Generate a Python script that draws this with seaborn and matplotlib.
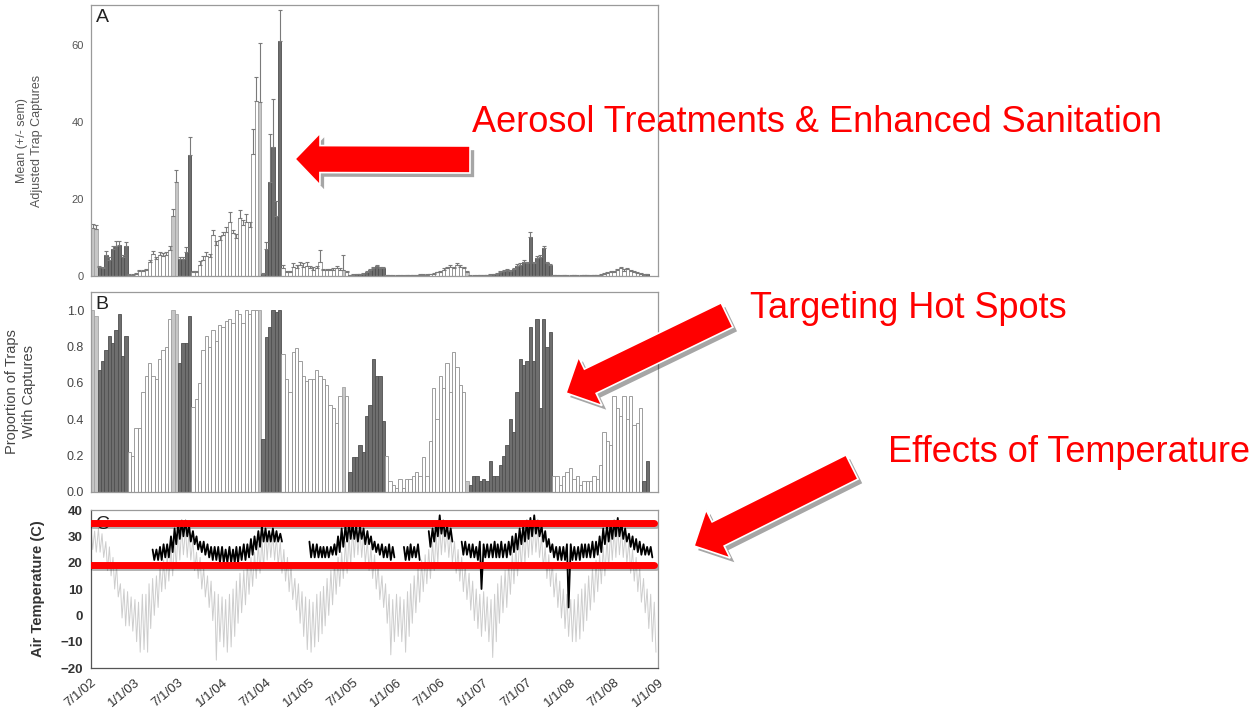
import numpy as np
import pandas as pd
import seaborn as sns
import matplotlib.pyplot as plt
import matplotlib.dates as mdates
import matplotlib.patheffects as pe
from matplotlib.patches import Polygon

sns.set_style("white")
plt.rcParams['font.family'] = ['Liberation Sans', 'DejaVu Sans']

# trap surveys every 14 days starting 7/1/02
survey_start = "2002-07-01"
survey_step_days = 14

# bar shading: L = light grey, W = open, D = dark grey
bar_group = ("LL" + "D" * 9 + "W" * 13 + "LL" + "D" * 4 + "W" * 20 + "L" + "D" * 6
             + "W" * 18 + "LW" + "D" * 11 + "W" * 24 + "L" + "D" * 25 + "W" * 27 + "DD")

# A. mean adjusted trap captures and sem
capture_mean = [
    12.5, 12.2,
    2.2, 2.0, 5.5, 4.2, 6.9, 7.9, 8.0, 4.8, 7.8,
    0.3, 0.3, 0.5, 1.3, 1.3, 1.5, 3.5, 5.7, 4.3, 5.4, 5.2, 5.4, 6.8,
    15.5, 24.5,
    4.4, 4.4, 6.3, 31.3,
    1.1, 1.1, 2.9, 4.2, 5.3, 5.0, 10.6, 8.1, 9.4, 10.6, 11.5, 14.1, 11.1, 9.8, 15.0, 13.2, 14.1, 12.8, 31.6, 45.5, 45.3,
    0.5, 7.0, 24.5, 33.5, 15.5, 61.0,
    2.0, 1.1, 1.1, 2.4, 2.0, 2.9, 2.4, 2.7, 2.0, 1.6, 2.0, 3.7, 1.6, 1.6, 1.6, 1.6, 2.0, 1.6, 1.6, 1.1,
    0.2, 0.3, 0.5, 0.4, 0.6, 1.0, 1.5, 2.0, 2.6, 2.0, 2.0,
    0.2, 0.1, 0.1, 0.1, 0.1, 0.1, 0.2, 0.1, 0.2, 0.2, 0.3, 0.3, 0.3, 0.4, 0.5, 0.9, 1.1, 1.6, 2.0, 2.4, 2.0, 2.9, 2.4, 2.0, 1.1,
    0.1, 0.1, 0.1, 0.2, 0.2, 0.2, 0.3, 0.5, 0.6, 1.0, 1.3, 1.5, 1.3, 1.7, 2.6, 2.9, 3.7, 3.3, 10.2, 3.3, 4.6, 5.0, 7.2, 3.3, 2.9,
    0.2, 0.1, 0.1, 0.2, 0.1, 0.1, 0.2, 0.1, 0.1, 0.2, 0.2, 0.1, 0.2, 0.2, 0.3, 0.5, 0.7, 1.1, 1.0, 1.5, 2.0, 1.4, 1.7, 1.3, 1.0, 0.8, 0.5,
    0.3, 0.4,
]
capture_sem = [
    1.0, 1.1,
    0.3, 0.3, 0.9, 0.6, 0.9, 1.1, 1.1, 0.6, 1.0,
    0.1, 0.1, 0.2, 0.3, 0.3, 0.4, 0.7, 0.9, 0.6, 0.7, 0.7, 0.7, 0.9,
    1.8, 2.9,
    0.4, 0.4, 1.3, 4.8,
    0.2, 0.2, 1.0, 1.1, 1.0, 0.8, 1.3, 1.0, 1.0, 0.9, 1.3, 2.6, 0.9, 1.0, 2.1, 1.3, 1.9, 1.3, 6.6, 6.3, 15.1,
    0.3, 1.7, 12.5, 12.6, 4.0, 8.0,
    0.9, 0.2, 0.3, 1.0, 0.9, 0.8, 1.0, 0.9, 0.5, 0.8, 0.5, 3.0, 0.3, 0.3, 0.3, 0.4, 0.5, 0.4, 3.9, 0.2,
    0.1, 0.1, 0.1, 0.1, 0.2, 0.3, 0.3, 0.4, 0.3, 0.3, 0.3,
    0.1, 0.05, 0.05, 0.05, 0.05, 0.05, 0.1, 0.05, 0.1, 0.1, 0.1, 0.1, 0.1, 0.1, 0.2, 0.2, 0.3, 0.4, 0.4, 0.4, 0.4, 0.4, 0.4, 0.4, 0.2,
    0.05, 0.05, 0.05, 0.1, 0.1, 0.1, 0.1, 0.1, 0.2, 0.2, 0.3, 0.3, 0.3, 0.3, 0.4, 0.4, 0.5, 0.4, 1.3, 0.4, 0.5, 0.5, 0.5, 0.4, 0.3,
    0.1, 0.05, 0.05, 0.1, 0.05, 0.05, 0.1, 0.05, 0.05, 0.1, 0.1, 0.05, 0.1, 0.1, 0.1, 0.2, 0.2, 0.3, 0.3, 0.4, 0.4, 0.3, 0.4, 0.3, 0.3, 0.2, 0.2,
    0.1, 0.1,
]

# B. proportion of traps with captures
trap_prop = [
    1.0, 0.97,
    0.67, 0.72, 0.78, 0.86, 0.82, 0.89, 0.98, 0.75, 0.86,
    0.22, 0.20, 0.35, 0.35, 0.55, 0.64, 0.71, 0.64, 0.62, 0.73, 0.78, 0.80, 0.95,
    1.0, 0.98,
    0.71, 0.82, 0.82, 0.97,
    0.47, 0.51, 0.60, 0.78, 0.86, 0.80, 0.89, 0.83, 0.92, 0.91, 0.94, 0.95, 0.93, 1.0, 0.98, 0.93, 1.0, 0.98, 1.0, 1.0, 1.0,
    0.29, 0.85, 0.91, 1.0, 0.99, 1.0,
    0.76, 0.62, 0.55, 0.77, 0.79, 0.72, 0.64, 0.61, 0.62, 0.62, 0.67, 0.64, 0.62, 0.59, 0.48, 0.46, 0.38, 0.53, 0.58, 0.53,
    0.11, 0.19, 0.19, 0.26, 0.22, 0.42, 0.48, 0.73, 0.64, 0.64, 0.39,
    0.20, 0.06, 0.04, 0.02, 0.07, 0.02, 0.07, 0.07, 0.09, 0.11, 0.09, 0.19, 0.09, 0.28, 0.57, 0.40, 0.64, 0.57, 0.71, 0.55, 0.77, 0.69, 0.59, 0.55, 0.06,
    0.04, 0.09, 0.09, 0.06, 0.07, 0.06, 0.17, 0.09, 0.09, 0.15, 0.20, 0.26, 0.40, 0.33, 0.55, 0.73, 0.70, 0.72, 0.91, 0.72, 0.95, 0.46, 0.95, 0.80, 0.88,
    0.09, 0.09, 0.04, 0.09, 0.11, 0.13, 0.07, 0.09, 0.04, 0.06, 0.06, 0.06, 0.09, 0.07, 0.15, 0.33, 0.28, 0.26, 0.53, 0.46, 0.42, 0.53, 0.40, 0.53, 0.37, 0.38, 0.46,
    0.06, 0.17,
]

# C. air temperature, half-month readings (1st and 16th), Jul 2002 - Dec 2008
outdoor_hi = [
    33, 32, 33, 31, 28, 26, 22, 19, 12, 10, 9, 7,
    6, 5, 8, 8, 12, 14, 15, 19, 21, 23, 26, 29, 33, 34, 33, 32, 29, 24, 22, 18, 15, 13, 9, 8,
    7, 6, 8, 10, 13, 16, 17, 20, 22, 24, 27, 29, 32, 32, 31, 30, 28, 25, 22, 19, 14, 12, 9, 7,
    6, 5, 8, 9, 11, 14, 17, 20, 22, 24, 28, 31, 33, 34, 33, 31, 28, 26, 23, 19, 15, 12, 8, 6,
    8, 7, 6, 9, 12, 15, 18, 21, 23, 25, 28, 31, 34, 34, 33, 31, 28, 25, 22, 19, 16, 13, 10, 8,
    9, 7, 6, 8, 12, 15, 17, 20, 24, 26, 29, 31, 33, 34, 35, 33, 30, 26, 23, 20, 16, 13, 10, 8,
    6, 6, 8, 10, 12, 15, 18, 21, 23, 26, 29, 32, 33, 34, 33, 31, 28, 25, 22, 18, 14, 10, 8, 5,
]
outdoor_lo = [
    25, 24, 24, 22, 17, 15, 10, 7, -1, -4, -4, -6,
    -10, -14, -13, -14, -5, 0, 3, 9, 10, 13, 15, 18, 21, 23, 22, 21, 17, 14, 10, 7, 3, -2, -17, -10,
    -12, -14, -12, -8, -3, 1, 4, 8, 11, 14, 16, 18, 21, 22, 21, 19, 16, 13, 9, 6, 2, -3, -8, -13,
    -14, -12, -10, -7, -4, 0, 4, 8, 11, 14, 16, 19, 22, 23, 22, 20, 17, 14, 10, 6, 3, -3, -15, -10,
    -8, -10, -14, -8, -3, 1, 5, 9, 12, 14, 17, 20, 23, 24, 22, 20, 16, 13, 9, 6, 2, -2, -5, -8,
    -6, -10, -16, -10, -3, 1, 3, 8, 12, 15, 18, 20, 22, 23, 24, 22, 18, 14, 11, 7, 3, -1, -5, -8,
    -10, -10, -9, -6, -2, 2, 5, 9, 12, 15, 18, 21, 22, 23, 22, 20, 16, 13, 9, 5, 1, -5, -10, -14,
]
N = None
indoor_hi = [
    N, N, N, N, N, N, N, N, N, N, N, N,
    N, N, N, N, N, 25, 25, 26, 27, 27, 30, 33, 35, 36, 36, 34, 32, 30, 28, 28, 27, 26, 26, 26,
    26, 25, 26, 25, 26, 26, 27, 27, 29, 30, 32, 34, 33, 32, 33, 32, 31, N, N, N, N, N, N, N,
    28, 27, 27, 26, 26, 26, 26, 27, 30, 33, 34, 35, 35, 34, 34, 33, 32, 30, 28, 27, 27, 26, 27, 26,
    N, N, 26, 26, 27, 26, 27, N, N, 32, 33, 35, 38, 36, 34, 33, N, N, 28, 28, 27, 27, 26, 28,
    27, 27, 27, 28, 27, 28, 27, 28, 30, 31, 33, 34, 36, 37, 38, 36, 34, 32, 29, 27, 26, 26, 26, 27,
    27, 26, 26, 27, 27, 27, 28, 28, 30, 33, 34, 35, 36, 37, 35, 33, 31, 30, 29, 28, 27, 26, 26, N,
]
indoor_lo = [
    N, N, N, N, N, N, N, N, N, N, N, N,
    N, N, N, N, N, 21, 21, 21, 22, 22, 24, 27, 29, 30, 30, 28, 27, 25, 24, 23, 22, 21, 21, 20,
    20, 20, 20, 20, 20, 21, 21, 22, 23, 25, 26, 28, 28, 28, 28, 28, 28, N, N, N, N, N, N, N,
    22, 22, 22, 22, 22, 22, 23, 23, 24, 26, 28, 29, 29, 28, 29, 27, 27, 25, 24, 23, 22, 22, 21, 22,
    N, N, 21, 21, 22, 22, 21, N, N, 26, 28, 30, 31, 30, 29, 28, N, N, 23, 23, 22, 22, 21, 10,
    22, 22, 22, 22, 22, 22, 22, 23, 24, 25, 27, 28, 29, 30, 31, 30, 28, 26, 24, 22, 21, 21, 21, 3,
    21, 21, 21, 22, 22, 22, 22, 23, 24, 27, 28, 29, 30, 30, 29, 28, 26, 25, 24, 23, 23, 23, 22, N,
]
band_temps = [35, 19]

n = len(trap_prop)
assert len(capture_mean) == n == len(capture_sem) == len(bar_group)
assert len(outdoor_hi) == len(outdoor_lo) == len(indoor_hi) == len(indoor_lo)

x0 = mdates.date2num(pd.Timestamp(survey_start))
bar_x = x0 + survey_step_days * (np.arange(n) + 0.5)

months = pd.date_range("2002-07-01", "2008-12-01", freq="MS")
slot_dates = []
for m in months:
    slot_dates += [m, m + pd.Timedelta(days=15)]


def zigzag(hi, lo):
    rows, seg = [], 0
    for d, h, l in zip(slot_dates, hi, lo):
        if h is None:
            seg += 1
            continue
        rows.append((mdates.date2num(d), h, seg))
        rows.append((mdates.date2num(d + pd.Timedelta(days=7)), l, seg))
    return pd.DataFrame(rows, columns=["date", "temp", "seg"])


outdoor = zigzag(outdoor_hi, outdoor_lo)
indoor = zigzag(indoor_hi, indoor_lo)

fig = plt.figure(figsize=(12.54, 7.13), dpi=100)
axA = fig.add_axes([0.0726, 0.613, 0.4522, 0.380])
axB = fig.add_axes([0.0726, 0.310, 0.4522, 0.2805], sharex=axA)
axC = fig.add_axes([0.0726, 0.0631, 0.4522, 0.2216], sharex=axA)

face = {"L": "#c6c6c6", "W": "white", "D": "#6e6e6e"}
edge = {"L": "#a3a3a3", "W": "#8e8e8e", "D": "#505050"}
fc = [face[g] for g in bar_group]
ec = [edge[g] for g in bar_group]

axA.bar(bar_x, capture_mean, width=survey_step_days, color=fc, edgecolor=ec, linewidth=0.6)
axA.errorbar(bar_x, capture_mean, yerr=[np.zeros(n), capture_sem], fmt='none',
             ecolor='#7a7a7a', elinewidth=0.8, capsize=1.5, capthick=0.8)
axB.bar(bar_x, trap_prop, width=survey_step_days, color=fc, edgecolor=ec, linewidth=0.6)

sns.lineplot(data=outdoor, x="date", y="temp", units="seg", estimator=None, sort=False,
             color="#cdcdcd", lw=0.7, ax=axC)
sns.lineplot(data=indoor, x="date", y="temp", units="seg", estimator=None, sort=False,
             color="black", lw=1.3, ax=axC)
for t in band_temps:
    axC.axhline(t, xmin=0, xmax=0.993, color="red", lw=5, zorder=5,
                path_effects=[pe.SimpleLineShadow(offset=(1.5, -1.5), alpha=0.3), pe.Normal()])

axA.set_xlim(x0, mdates.date2num(pd.Timestamp("2009-01-01")))
axA.set_ylim(0, 70.4)
axB.set_ylim(0, 1.1)
axC.set_ylim(-20, 40)

axA.set_yticks([0, 20, 40, 60])
axB.set_yticks(np.arange(0, 1.01, 0.2))
axB.set_yticklabels([f"{v:.1f}" for v in np.arange(0, 1.01, 0.2)])
axC.set_yticks(range(-20, 41, 10))

tick_dates = pd.date_range("2002-07-01", "2009-01-01", freq="6MS")
axC.set_xticks(mdates.date2num(tick_dates))
axC.set_xticklabels([f"{d.month}/{d.day}/{d:%y}" for d in tick_dates], rotation=40,
                    ha="right", rotation_mode="anchor", fontsize=10.5, color="#222222")

for ax in (axA, axB):
    ax.tick_params(axis="x", length=0, labelbottom=False)
axA.tick_params(axis="y", length=3, width=0.8, color="#888888", labelsize=8, labelcolor="#555555", pad=2)
axB.tick_params(axis="y", length=3, width=0.8, color="#888888", labelsize=9, labelcolor="#444444", pad=2)
axC.tick_params(axis="both", length=4, width=1, color="#555555", labelsize=9.5, labelcolor="#333333", pad=2)
for lbl in axC.get_yticklabels():
    lbl.set_fontweight("bold")

for ax in (axA, axB, axC):
    for s in ax.spines.values():
        s.set_color("#9a9a9a")
        s.set_linewidth(0.9)
for s in ("left", "bottom"):
    axC.spines[s].set_color("#555555")

axA.set_xlabel("")
axB.set_xlabel("")
axC.set_xlabel("")
axA.set_ylabel("Mean (+/- sem)\nAdjusted Trap Captures", fontsize=9, color="#555555", linespacing=1.3)
axB.set_ylabel("Proportion of Traps\nWith Captures", fontsize=10.5, color="#444444", linespacing=1.25)
axC.set_ylabel("Air Temperature (C)", fontsize=10.5, color="#333333", fontweight="bold")
axA.yaxis.set_label_coords(-0.085, 0.5)
axB.yaxis.set_label_coords(-0.097, 0.5)
axC.yaxis.set_label_coords(-0.082, 0.5)

axA.text(0.008, 0.985, "A", transform=axA.transAxes, fontsize=14, va="top", color="#222222")
axB.text(0.008, 0.98, "B", transform=axB.transAxes, fontsize=14, va="top", color="#222222")
axC.text(0.008, 0.96, "C", transform=axC.transAxes, fontsize=14, va="top", color="#222222", zorder=1)

# annotation layer in pixel coordinates
ov = fig.add_axes([0, 0, 1, 1], zorder=10)
ov.set_xlim(0, 1254)
ov.set_ylim(713, 0)
ov.axis("off")
ov.patch.set_alpha(0)


def block_arrow(tip, tail, body=27, head=54, head_len=27):
    tip = np.array(tip, float)
    tail = np.array(tail, float)
    u = (tail - tip) / np.linalg.norm(tail - tip)
    p = np.array([-u[1], u[0]])
    b = tip + u * head_len
    pts = [tip, b + p * head / 2, b + p * body / 2, tail + p * body / 2,
           tail - p * body / 2, b - p * body / 2, b - p * head / 2]
    return Polygon(pts, closed=True, fc="red", ec="white", lw=1.2,
                   path_effects=[pe.SimplePatchShadow(offset=(3, -3), shadow_rgbFace="k", alpha=0.35),
                                 pe.Normal()])


ov.add_patch(block_arrow((295, 159), (470, 159.5), body=27, head=52, head_len=25))
ov.add_patch(block_arrow((566, 393), (727, 315)))
ov.add_patch(block_arrow((694, 546), (852, 467)))

ov.text(472, 122, "Aerosol Treatments & Enhanced Sanitation", color="red", fontsize=26, va="center")
ov.text(750, 308, "Targeting Hot Spots", color="red", fontsize=26, va="center")
ov.text(888, 452, "Effects of Temperature", color="red", fontsize=26, va="center")

fig.savefig("out.png", dpi=100)
